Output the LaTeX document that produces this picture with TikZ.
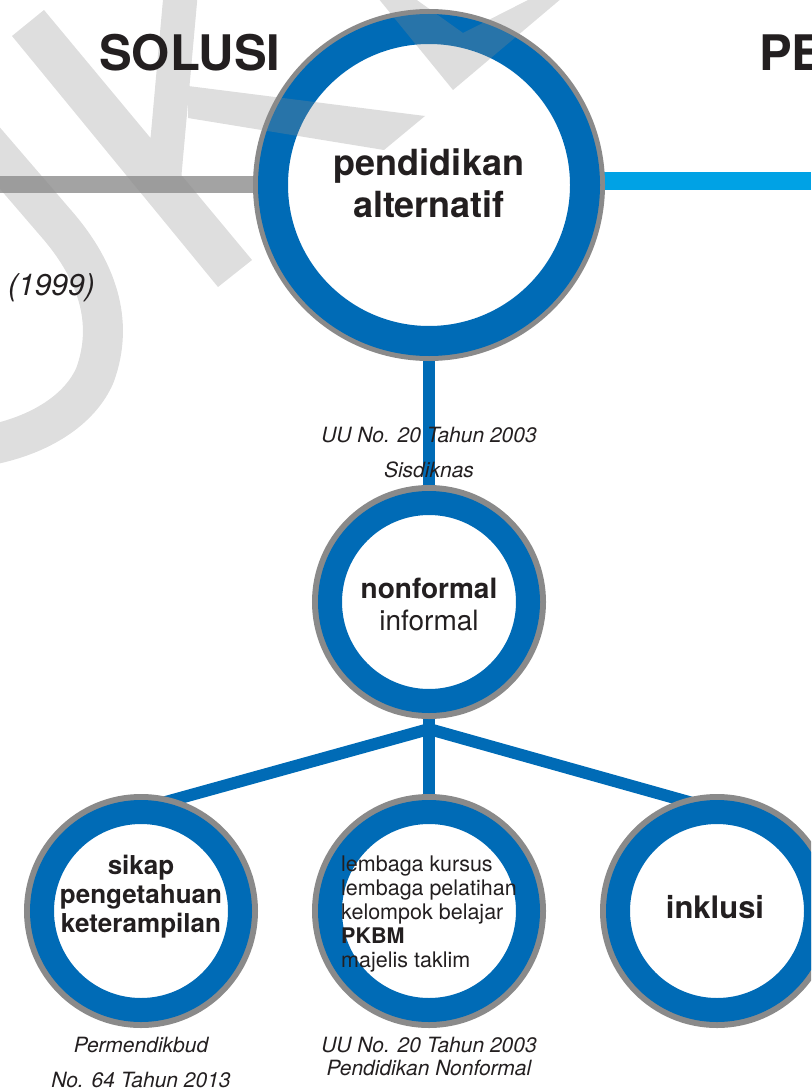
\documentclass[tikz,border=0pt]{standalone}
\usepackage{fontspec}
\setmainfont{TeX Gyre Heros}
\usetikzlibrary{backgrounds}
\definecolor{ringblue}{HTML}{006BB6}
\definecolor{rimgray}{HTML}{8A8A8A}
\definecolor{skyblue}{HTML}{00A2E5}
\definecolor{linegray}{HTML}{A3A3A3}
\definecolor{inkdark}{HTML}{231F20}
\definecolor{markgray}{HTML}{8C8C8C}

\begin{document}
\begin{tikzpicture}[x=1pt,y=-1pt,
    ring/.style={circle,fill=white,draw=ringblue,line width=30pt,
        preaction={draw=rimgray,line width=40pt},minimum size=312pt,inner sep=0pt},
    sring/.style={circle,fill=white,draw=ringblue,line width=24pt,
        preaction={draw=rimgray,line width=36pt},minimum size=198pt,inner sep=0pt},
    link/.style={ringblue,line width=12pt},
    wmark/.style={markgray,opacity=0.29},
    txt/.style={text=inkdark,inner sep=0pt,align=center}]
    \useasboundingbox (0,0) rectangle (811,1091);
    \clip (0,0) rectangle (811,1091);
    %circles
    \node[ring] (pa) at (429,185) {};
    \node[sring] (nf) at (429,602) {};
    \node[sring] (sk) at (141,911) {};
    \node[sring] (lb) at (429,911) {};
    \node[sring] (ik) at (717,911) {};
    %links
    \begin{scope}[on background layer]
        \coordinate (fork) at (429,729);
        \draw[link] (pa) -- (nf);
        \draw[link] (nf) -- (lb);
        \draw[link] (sk.78) -- (fork) -- (ik.103);
        \draw[linegray,line width=17pt] (pa.west) -- (0,185);
        \draw[skyblue,line width=18pt] ([yshift=4pt]pa.east) -- (811,181);
    \end{scope}
    %watermark
    \fill[wmark,nonzero rule] (12,36) -- (44,10) -- (252,260) -- (218,287) -- cycle
        (198,-8.5) -- (180,191.5) -- (146,188.5) -- (164,-11.5) -- cycle
        (188,86) -- (425,116) -- (384,150) -- (188,118) -- cycle;
    \fill[wmark] (378,-2) -- (453,90) -- (562,-2) -- (532,-2) -- (463,33) -- (414,-2) -- cycle;
    \draw[wmark,line width=40pt] (-20,135) -- (60,228) .. controls (95,270) and (115,320) .. (95,375)
        .. controls (80,410) and (40,435) .. (-10,445);
    %headings
    \node[txt,anchor=base west,font=\fontsize{49}{56}\selectfont\bfseries] (sol) at (99,71) {SOLUSI};
    \node[txt,anchor=base west,font=\fontsize{49}{56}\selectfont\bfseries] (pe) at (759,71) {PE};
    \node[txt,anchor=base east,font=\fontsize{30}{36}\selectfont\itshape] (yr) at (95,295) {(1999)};
    %circle texts
    \node[txt,font=\fontsize{36}{42}\selectfont\bfseries] (pa text) at (429,183) {pendidikan\\alternatif};
    \node[txt,font=\fontsize{28}{32}\selectfont] (nf text) at (429,604) {\textbf{nonformal}\\informal};
    \node[txt,font=\fontsize{26}{29}\selectfont\bfseries] (sk text) at (141,897) {sikap\\pengetahuan\\keterampilan};
    \node[txt,align=left,anchor=west,font=\fontsize{21.5}{24}\selectfont] (lb text) at (341,914)
        {lembaga kursus\\lembaga pelatihan\\kelompok belajar\\\textbf{PKBM}\\majelis taklim};
    \node[txt,anchor=base,font=\fontsize{31}{36}\selectfont\bfseries] (ik text) at (715,918) {inklusi};
    %labels
    \node[txt,font=\fontsize{21}{35}\selectfont\itshape] (uu sis) at (429,453) {UU No. 20 Tahun 2003\\Sisdiknas};
    \node[txt,font=\fontsize{21}{35}\selectfont\itshape] (perm) at (141,1062) {Permendikbud\\No. 64 Tahun 2013};
    \node[txt,font=\fontsize{21}{23}\selectfont\itshape] (uu pnf) at (429,1056) {UU No. 20 Tahun 2003\\Pendidikan Nonformal};
\end{tikzpicture}
\end{document}
